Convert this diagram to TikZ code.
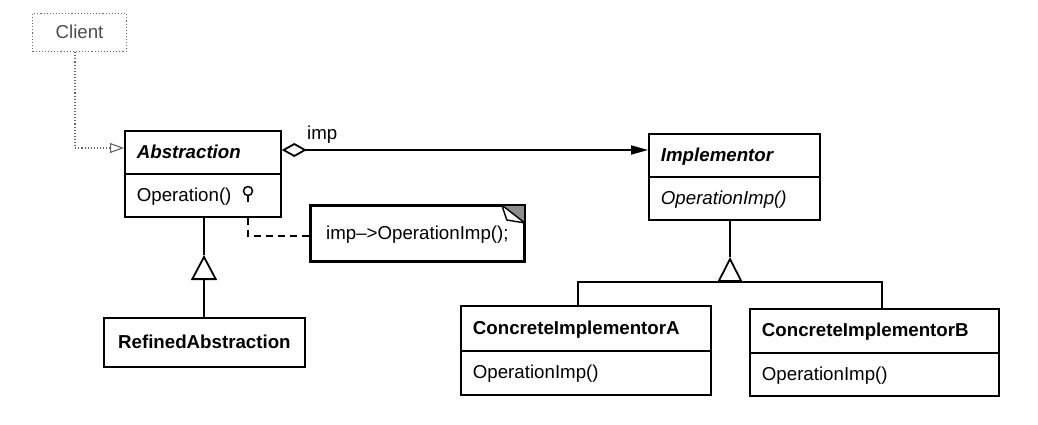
\documentclass[tikz,border=0pt]{standalone}
\usepackage{fontspec}
\setmainfont{Liberation Sans}
\usetikzlibrary{arrows.meta}
\begin{document}
\begin{tikzpicture}[x=1pt,y=-1pt,
  every node/.style={font=\fontsize{18.7}{22}\selectfont},
  cls/.style={draw, line width=1.8pt, anchor=north west, inner xsep=12pt, inner ysep=0pt,
              text height=14pt, text depth=2pt, align=left},
  conn/.style={line width=1.8pt},
  clientline/.style={draw=black!60, line width=1.1pt, dotted},
  notedash/.style={line width=1.8pt, dash pattern=on 7pt off 5pt},
  gentip/.style={-{Triangle[open,length=25pt,width=26pt]}}
]
\useasboundingbox (0,0) rectangle (1038,424);

% Client
\node[draw=black!60, dotted, line width=1.1pt, anchor=north west, minimum width=94pt, minimum height=38pt,
      inner sep=0pt, text=black!70, text height=14pt, text depth=2pt] (client) at (32,13) {Client};

% Abstraction
\node[cls, text width=132pt, minimum height=43pt] (abst) at (124,130) {\bfseries\itshape Abstraction};
\node[cls, text width=132pt, minimum height=43pt] (absop) at (124,173) {Operation()};

% Implementor
\node[cls, text width=147pt, minimum height=43pt] (impl) at (648,133) {\bfseries\itshape Implementor};
\node[cls, text width=147pt, minimum height=43pt] (implop) at (648,176) {\itshape OperationImp()};

% Concrete implementors
\node[cls, text width=226pt, minimum height=45pt] (ca) at (460,305) {\bfseries ConcreteImplementorA};
\node[cls, text width=226pt, minimum height=44pt] (caop) at (460,350) {OperationImp()};
\node[cls, text width=225pt, minimum height=44pt] (cb) at (749,308) {\bfseries ConcreteImplementorB};
\node[cls, text width=225pt, minimum height=43pt] (cbop) at (749,352) {OperationImp()};

% Refined abstraction
\node[cls, text width=177pt, minimum height=49pt, align=center] (ref) at (103,317) {\bfseries RefinedAbstraction};

% Note
\node[draw, line width=1.8pt, anchor=north west, minimum width=213pt, minimum height=55pt, inner sep=0pt,
      text height=14pt, text depth=2pt] (note) at (310,205) {imp\textendash>OperationImp();};
\fill[black!45] ([xshift=-23pt]note.north east) -- (note.north east) -- ([yshift=-18pt]note.north east) -- cycle;
\fill[white] ([xshift=-23pt]note.north east) -- ([xshift=-18pt,yshift=-15pt]note.north east) -- ([yshift=-18pt]note.north east) -- cycle;
\draw[line width=1.4pt, line join=round] ([xshift=-23pt]note.north east) -- ([xshift=-18pt,yshift=-15pt]note.north east) -- ([yshift=-18pt]note.north east) -- cycle;
\draw[line width=1.8pt] (note.north west) rectangle (note.south east);

% Client -> Abstraction
\coordinate (cbend) at (75,148);
\draw[clientline, -{Triangle[open,length=14pt,width=10pt]}] (client.south -| cbend) -- (cbend) -- (cbend -| abst.west);

% Aggregation Abstraction -> Implementor
\coordinate (aggy) at (0,150);
\draw[conn, {Diamond[open,length=25pt,width=14pt]}-{Triangle[length=17pt,width=9pt]}] (abst.east |- aggy) -- (impl.west |- aggy);
\node[anchor=base west, inner sep=0pt] (implbl) at (307,139) {imp};

% Lollipop and dashed line to note
\node[circle, draw, line width=1.5pt, minimum size=9pt, inner sep=0pt] (lol) at (248,191) {};
\coordinate (lolend) at (248,202);
\draw[line width=1.5pt] (lol.south) -- (lolend);
\coordinate (nb) at (248,236);
\draw[notedash] (absop.south -| nb) -- (nb) -- (nb -| note.west);

% Generalization Refined -> Abstraction
\coordinate (apA) at (204,255);
\draw[conn] (absop.south -| apA) -- (apA);
\draw[conn, gentip] (ref.north -| apA) -- (apA);

% Generalization Concrete -> Implementor
\coordinate (apI) at (730,257);
\coordinate (junI) at (730,282);
\coordinate (ja) at (578,282);
\coordinate (jb) at (882,282);
\draw[conn] (implop.south -| apI) -- (apI);
\draw[conn, -{Triangle[open,length=25pt,width=25pt]}] (junI) -- (apI);
\draw[conn] (ca.north -| ja) -- (ja) -- (jb) -- (jb |- cb.north);
\end{tikzpicture}
\end{document}
